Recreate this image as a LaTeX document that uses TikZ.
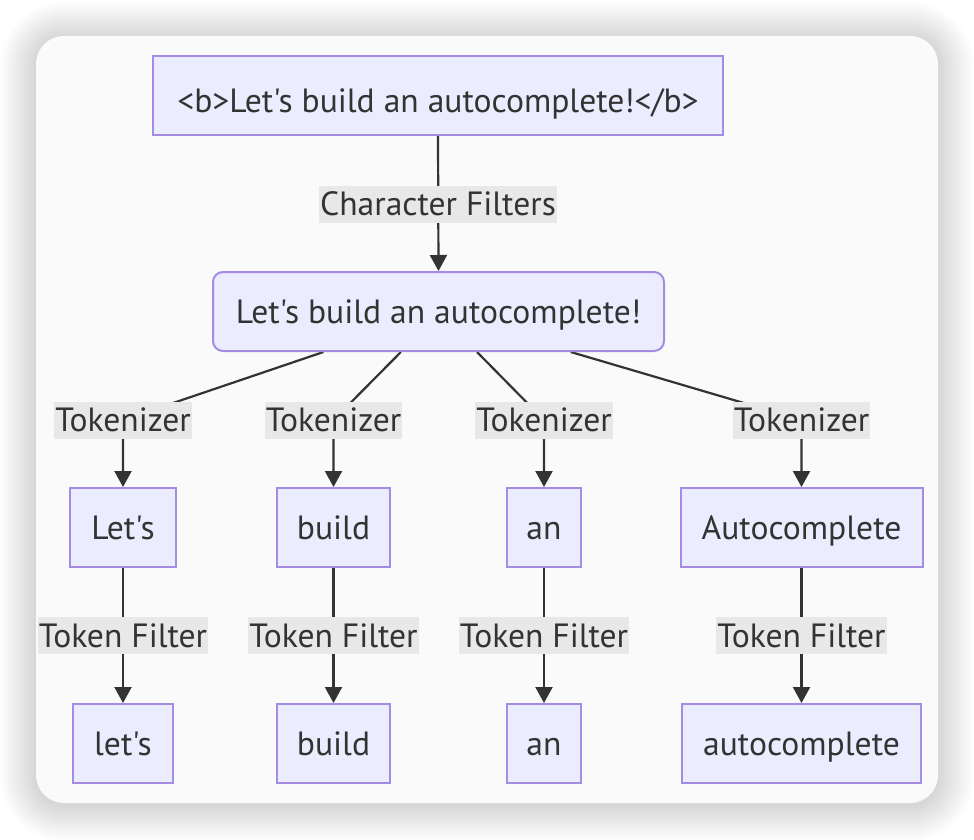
\documentclass[tikz,border=0pt]{standalone}
\usepackage{fontspec}
\setmainfont{PT Sans}[Ligatures=TeXOff]
\usetikzlibrary{arrows.meta,calc}
\pgfdeclarelayer{cardlayer}
\pgfdeclarelayer{edgelayer}
\pgfsetlayers{cardlayer,edgelayer,main}
\definecolor{nodefill}{HTML}{ECECFF}
\definecolor{nodeline}{HTML}{A58CE2}
\definecolor{txt}{HTML}{333333}
\definecolor{lblbg}{HTML}{E8E8E8}
\definecolor{cardbg}{HTML}{FAFAFA}
\begin{document}
\begin{tikzpicture}[x=1pt,y=-1pt,
  basefont/.style={font=\fontsize{33.6}{40}\selectfont, text=txt},
  box/.style={basefont, draw=nodeline, fill=nodefill, line width=2pt, inner sep=0pt,
    minimum height=79pt, text height=30pt, text depth=7pt},
  lbl/.style={basefont, fill=lblbg, inner xsep=1pt, inner ysep=0pt,
    text height=30pt, text depth=7pt},
  edge/.style={draw=txt, line width=2.2pt},
  arr/.style={edge, -{Triangle[length=16pt,width=17pt]}}]
\useasboundingbox (0,0) rectangle (974,840);
\begin{pgfonlayer}{cardlayer}
  \fill[white] (0,0) rectangle (974,840);
  \foreach \i in {1,...,20} {
    \pgfmathsetmacro{\rr}{28+1.8*\i}
    \fill[black, opacity=0.009, rounded corners=\rr pt]
      (36-1.8*\i, 38-1.8*\i) rectangle (938+1.8*\i, 805+1.8*\i);
  }
  \fill[cardbg, rounded corners=28pt] (36,36) rectangle (938,803);
\end{pgfonlayer}

% nodes
\node[box, minimum width=570pt, text height=42pt] (b1) at (438,95.5) {<b>Let's build an autocomplete!</b>};
\node[box, minimum width=451pt, rounded corners=10pt] (b2) at (438.5,311.5) {Let's build an autocomplete!};

\node[box, minimum width=106pt] (w1) at (123,527.5) {Let's};
\node[box, minimum width=113pt] (w2) at (333.5,527.5) {build};
\node[box, minimum width=74pt] (w3) at (544,527.5) {an};
\node[box, minimum width=242pt] (w4) at (801.5,527.5) {Autocomplete};

\node[box, minimum width=100pt] (f1) at (123,743.5) {let's};
\node[box, minimum width=113pt] (f2) at (333.5,743.5) {build};
\node[box, minimum width=74pt] (f3) at (544,743.5) {an};
\node[box, minimum width=239pt] (f4) at (801.5,743.5) {autocomplete};

\node[lbl] (cf) at (438,204) {Character Filters};
\node[lbl] (t1) at (123,420) {Tokenizer};
\node[lbl] (t2) at (333.5,420) {Tokenizer};
\node[lbl] (t3) at (544,420) {Tokenizer};
\node[lbl] (t4) at (801.5,420) {Tokenizer};
\node[lbl] (k1) at (123,635.5) {Token Filter};
\node[lbl] (k2) at (333.5,635.5) {Token Filter};
\node[lbl] (k3) at (544,635.5) {Token Filter};
\node[lbl] (k4) at (801.5,635.5) {Token Filter};

\begin{pgfonlayer}{edgelayer}
  \draw[arr] (b1.south) -- (b2.north);
  \draw[arr] ($(b2.south west)!0.246!(b2.south east)$) -- (t1.center) -- (w1.north);
  \draw[arr] ($(b2.south west)!0.417!(b2.south east)$) -- (t2.center) -- (w2.north);
  \draw[arr] ($(b2.south west)!0.585!(b2.south east)$) -- (t3.center) -- (w3.north);
  \draw[arr] ($(b2.south west)!0.792!(b2.south east)$) -- (t4.center) -- (w4.north);
  \draw[arr] (w1.south) -- (k1.center) -- (f1.north);
  \draw[arr] (w2.south) -- (k2.center) -- (f2.north);
  \draw[arr] (w3.south) -- (k3.center) -- (f3.north);
  \draw[arr] (w4.south) -- (k4.center) -- (f4.north);
\end{pgfonlayer}
\end{tikzpicture}
\end{document}
